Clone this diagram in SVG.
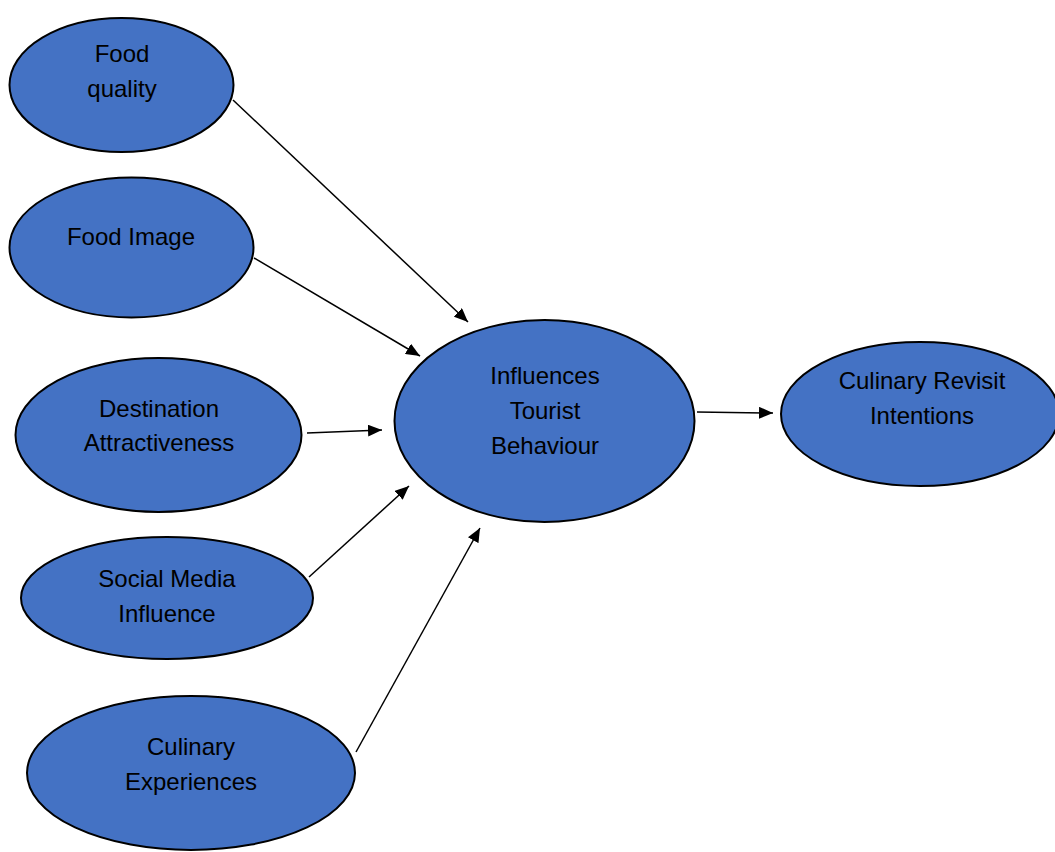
<svg xmlns="http://www.w3.org/2000/svg" width="1055" height="852" viewBox="0 0 1055 852">
<style>
.n{fill:#4472C4;stroke:#000;stroke-width:2}
.t{font-family:"Liberation Sans","Open Sans",sans-serif;font-size:24px;fill:#000;text-anchor:middle}
.c{stroke:#000;stroke-width:1.5;fill:none;marker-end:url(#ah)}
</style>
<defs>
<marker id="ah" viewBox="0 0 14 12" refX="14" refY="6" markerWidth="14" markerHeight="12" markerUnits="userSpaceOnUse" orient="auto">
<path d="M0,0 L14,6 L0,12 Z" fill="#000"/>
</marker>
</defs>
<rect width="1055" height="852" fill="#fff"/>
<g id="connectors">
<line class="c" x1="233" y1="100" x2="468" y2="322"/>
<line class="c" x1="254" y1="258" x2="420" y2="356"/>
<line class="c" x1="307" y1="433" x2="382" y2="430"/>
<line class="c" x1="309" y1="577" x2="409" y2="486"/>
<line class="c" x1="356" y1="752" x2="480" y2="528"/>
<line class="c" x1="697" y1="412" x2="773" y2="413"/>
</g>
<g id="food-quality"><ellipse class="n" cx="121.5" cy="85" rx="112" ry="67"/><text class="t" x="122" y="62">Food</text><text class="t" x="122" y="97">quality</text></g>
<g id="food-image"><ellipse class="n" cx="131.5" cy="247.5" rx="122" ry="70"/><text class="t" x="131" y="245">Food Image</text></g>
<g id="destination"><ellipse class="n" cx="158.5" cy="435" rx="143" ry="77"/><text class="t" x="159" y="417">Destination</text><text class="t" x="159" y="451">Attractiveness</text></g>
<g id="social-media"><ellipse class="n" cx="167" cy="598" rx="146" ry="61"/><text class="t" x="167" y="587">Social Media</text><text class="t" x="167" y="622">Influence</text></g>
<g id="culinary-experiences"><ellipse class="n" cx="191" cy="773" rx="164" ry="77"/><text class="t" x="191" y="755">Culinary</text><text class="t" x="191" y="790">Experiences</text></g>
<g id="tourist-behaviour"><ellipse class="n" cx="544.5" cy="421" rx="150" ry="101"/><text class="t" x="545" y="384">Influences</text><text class="t" x="545" y="419">Tourist</text><text class="t" x="545" y="454">Behaviour</text></g>
<g id="revisit"><ellipse class="n" cx="920" cy="414" rx="139" ry="72"/><text class="t" x="922" y="389">Culinary Revisit</text><text class="t" x="922" y="424">Intentions</text></g>
</svg>
